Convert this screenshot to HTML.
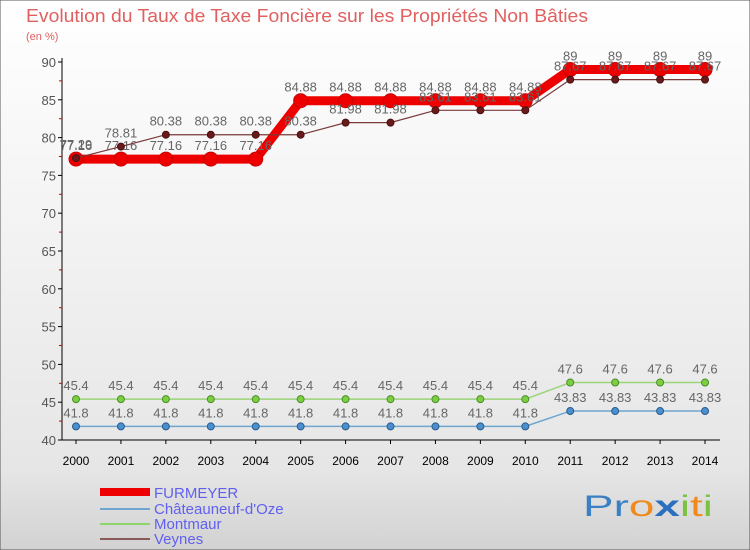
<!DOCTYPE html>
<html><head><meta charset="utf-8"><style>
body{margin:0;width:750px;height:550px;overflow:hidden;font-family:"Liberation Sans",sans-serif}
svg{display:block}
</style></head><body>
<svg width="750" height="550" xmlns="http://www.w3.org/2000/svg">
<defs><linearGradient id="bg" x1="0" y1="0" x2="0" y2="1"><stop offset="0" stop-color="#ffffff"/><stop offset="0.85" stop-color="#e6e6e6"/><stop offset="1" stop-color="#d2d2d2"/></linearGradient></defs>
<rect width="750" height="550" fill="url(#bg)" stroke="#555" stroke-width="1"/>
<text x="26" y="22" font-size="18" fill="#e06060" textLength="562" lengthAdjust="spacingAndGlyphs">Evolution du Taux de Taxe Foncière sur les Propriétés Non Bâties</text>
<text x="26" y="40" font-size="11" fill="#e06060">(en %)</text>
<g id="axes"></g><g id="series"></g>
<g font-size="15" fill="#6060f0">
<rect x="100" y="488" width="50" height="8" fill="#e00"/>
<text x="154" y="498">FURMEYER</text>
<rect x="100" y="508" width="50" height="2" fill="#6fa6d0"/>
<text x="154" y="514">Châteauneuf-d'Oze</text>
<rect x="100" y="523" width="50" height="2" fill="#8fd46a"/>
<text x="154" y="529">Montmaur</text>
<rect x="100" y="538" width="50" height="2" fill="#8a5a5a"/>
<text x="154" y="544">Veynes</text>
</g>
<text x="583" y="516" font-size="30" textLength="130" lengthAdjust="spacingAndGlyphs"><tspan fill="#3b7fc4">Pr</tspan><tspan fill="#f08a1c">o</tspan><tspan fill="#2a6fc0" font-weight="bold">x</tspan><tspan fill="#7cc242">i</tspan><tspan fill="#f08a1c">t</tspan><tspan fill="#7cc242">i</tspan></text>
</svg>
<script>
const years=[2000,2001,2002,2003,2004,2005,2006,2007,2008,2009,2010,2011,2012,2013,2014];
const furmeyer=[77.16,77.16,77.16,77.16,77.16,84.88,84.88,84.88,84.88,84.88,84.88,89,89,89,89];
const chateauneuf=[41.8,41.8,41.8,41.8,41.8,41.8,41.8,41.8,41.8,41.8,41.8,43.83,43.83,43.83,43.83];
const montmaur=[45.4,45.4,45.4,45.4,45.4,45.4,45.4,45.4,45.4,45.4,45.4,47.6,47.6,47.6,47.6];
const veynes=[77.29,78.81,80.38,80.38,80.38,80.38,81.98,81.98,83.61,83.61,83.61,87.67,87.67,87.67,87.67];
const yTicks=[40,45,50,55,60,65,70,75,80,85,90];
const NS="http://www.w3.org/2000/svg";
function X(i){return 76+i*44.93;}
function Y(v){return 440-(v-40)*7.56;}
function mk(tag,attrs,parent,text){const e=document.createElementNS(NS,tag);for(const k in attrs)e.setAttribute(k,attrs[k]);if(text!==undefined)e.textContent=text;parent.appendChild(e);return e;}
const ax=document.getElementById('axes');
let yl=mk('line',{x1:62,y1:58,x2:62,y2:440,stroke:'#000'},ax);


let xl=mk('line',{x1:62,y1:440,x2:720,y2:440,stroke:'#000'},ax);


yTicks.forEach(v=>{
 mk('line',{x1:58,y1:Y(v),x2:62,y2:Y(v),stroke:'#000'},ax);
 if(v<90) mk('line',{x1:59,y1:Y(v+2.5),x2:62,y2:Y(v+2.5),stroke:'#c00'},ax);
 const t=mk('text',{x:56,y:Y(v)+5,'text-anchor':'end','font-size':13,fill:'#555'},ax,v);
 
 
});
years.forEach((yr,i)=>{
 mk('line',{x1:X(i),y1:440,x2:X(i),y2:444,stroke:'#000'},ax);
 const t=mk('text',{x:X(i),y:465,'text-anchor':'middle','font-size':12,fill:'#000'},ax,yr);
 
 
});
const sg=document.getElementById('series');
function series(vals,name,color,lw,r,dot,dotStroke){
 const g=mk('g',{},sg);
 
 
 mk('polyline',{points:vals.map((v,i)=>X(i)+','+Y(v)).join(' '),fill:'none',stroke:color,'stroke-width':lw,'stroke-linejoin':'round'},g);
 vals.forEach((v,i)=>{
  const c=mk('circle',{cx:X(i),cy:Y(v),r:r,fill:dot,stroke:dotStroke,'stroke-width':1},g);
  
  
  const t=mk('text',{x:X(i),y:Y(v)-9,'text-anchor':'middle','font-size':13,fill:'#666'},g,String(v));
  
  
 });
}
series(chateauneuf,'chateauneuf','#6fa6d0',1.5,3.5,'#4a90d0','#2a5a8a');
series(montmaur,'montmaur','#9ad47a',1.5,3.5,'#7cd040','#4a8a2a');
series(furmeyer,'furmeyer','#e00',9,7,'#e00','#c00');
series(veynes,'veynes','#7a3a3a',1.2,3.5,'#6a1a1a','#4a1010');
</script>
</body></html>
